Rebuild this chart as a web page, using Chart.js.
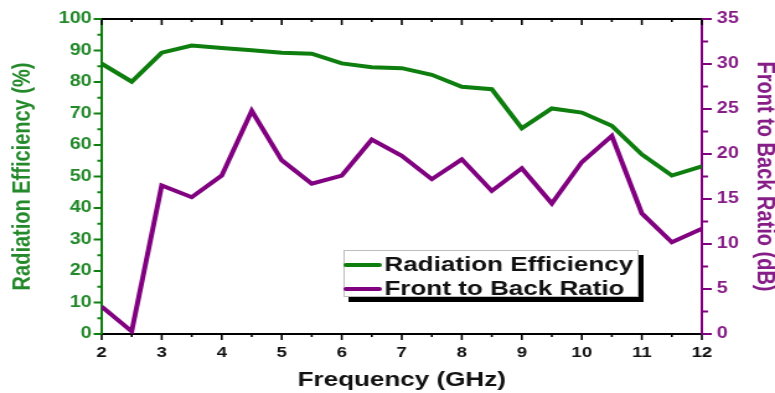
<!DOCTYPE html>
<html>
<head>
<meta charset="utf-8">
<script src="https://cdn.jsdelivr.net/npm/chart.js@4/dist/chart.umd.min.js"></script>
<style>
  html,body{margin:0;padding:0;background:#fff;overflow:hidden}
  /* chart is laid out narrow and widened to the page */
  #wrap{width:625px;height:393px;transform:scaleX(1.24);transform-origin:0 0}
</style>
</head>
<body>
<div id="wrap"><canvas id="effChart" width="625" height="393"></canvas></div>
<script>
/* ── DATA ───────────────────────────────────────────────── */
const freqGHz = [2, 2.5, 3, 3.5, 4, 4.5, 5, 5.5, 6, 6.5, 7, 7.5, 8, 8.5, 9, 9.5, 10, 10.5, 11, 11.5, 12];
const radEff  = [85.8, 80.1, 89.3, 91.6, 90.8, 90.1, 89.3, 89.0, 85.9, 84.7, 84.4, 82.3, 78.5, 77.7, 65.3, 71.6, 70.3, 66.1, 57.0, 50.3, 53.2];
const fbRatio = [3.05, 0.3, 16.5, 15.2, 17.6, 24.8, 19.3, 16.7, 17.6, 21.6, 19.8, 17.2, 19.4, 15.9, 18.4, 14.5, 19.1, 22.0, 13.4, 10.2, 11.7];
const seriesNames = ['Radiation Efficiency', 'Front to Back Ratio'];

const GREEN = '#0e7e0e', GREEN_TXT = '#24892a';
const PURPLE = '#800080', PURPLE_TXT = '#861c86';
const FONT = '"Liberation Sans", Arial, sans-serif';

const pts = vals => freqGHz.map((f, i) => ({ x: f, y: vals[i] }));

/* ── TICK MARKS + TOP FRAME ─────────────────────────────── */
function seg(ctx, x1, y1, x2, y2){ ctx.beginPath(); ctx.moveTo(x1, y1); ctx.lineTo(x2, y2); ctx.stroke(); }

const axisTicks = {
  id: 'axisTicks',
  afterDraw(chart){
    const { ctx, chartArea: a, scales: { x, y, y1 } } = chart;
    ctx.save();
    // top frame line with inward ticks, bottom axis outward ticks
    ctx.strokeStyle = '#000';
    ctx.lineWidth = 2;
    seg(ctx, a.left, a.top, a.right, a.top);
    ctx.lineWidth = 1.6;
    for (let v = x.min; v <= x.max + 1e-6; v += 0.5){
      const px = x.getPixelForValue(v), major = Number.isInteger(v);
      seg(ctx, px, a.bottom, px, a.bottom + (major ? 6 : 3));
      seg(ctx, px, a.top, px, a.top + (major ? 6 : 3));
    }
    // left axis
    ctx.strokeStyle = GREEN; ctx.lineWidth = 2;
    for (let v = y.min; v <= y.max + 1e-6; v += 5){
      const py = y.getPixelForValue(v);
      seg(ctx, a.left, py, a.left - (v % 10 === 0 ? 6.5 : 3.5), py);
    }
    // right axis
    ctx.strokeStyle = PURPLE;
    for (let v = y1.min; v <= y1.max + 1e-6; v += 2.5){
      const py = y1.getPixelForValue(v);
      seg(ctx, a.right, py, a.right + (v % 5 === 0 ? 8 : 5), py);
    }
    ctx.restore();
  }
};

/* ── BOXED LEGEND INSIDE PLOT ───────────────────────────── */
const boxLegend = {
  id: 'boxLegend',
  afterDraw(chart){
    const ctx = chart.ctx;
    const bx = 277, by = 250, bw = 238, bh = 47;
    ctx.save();
    ctx.fillStyle = '#000';
    ctx.fillRect(bx + 4, by + 5, bw, bh);
    ctx.fillStyle = '#fff';
    ctx.fillRect(bx, by, bw, bh);
    ctx.strokeStyle = '#bdbdbd'; ctx.lineWidth = 1;
    ctx.strokeRect(bx + 0.5, by + 0.5, bw - 1, bh - 1);
    ctx.font = `bold 21px ${FONT}`;
    ctx.textBaseline = 'alphabetic';
    chart.data.datasets.forEach((ds, i) => {
      const ly = by + 15 + i * 24;
      ctx.strokeStyle = ds.borderColor; ctx.lineWidth = 4; ctx.lineCap = 'round';
      seg(ctx, bx + 2, ly, bx + 29, ly);
      ctx.fillStyle = '#111';
      ctx.fillText(ds.label, bx + 33, ly + 5.5);
    });
    ctx.restore();
  }
};

/* ── CHART ──────────────────────────────────────────────── */
// tick marks come from the plugin; the library's own ticks only reserve space
const hiddenTicks = len => ({ drawOnChartArea: false, drawTicks: true, tickLength: len, tickColor: 'rgba(0,0,0,0)' });

new Chart(document.getElementById('effChart'), {
  type: 'line',
  data: {
    datasets: [
      { label: seriesNames[0], data: pts(radEff),  yAxisID: 'y',  borderColor: GREEN,  borderWidth: 4, pointRadius: 0, tension: 0, fill: false },
      { label: seriesNames[1], data: pts(fbRatio), yAxisID: 'y1', borderColor: PURPLE, borderWidth: 4, pointRadius: 0, tension: 0, fill: false }
    ]
  },
  options: {
    responsive: false, animation: false, devicePixelRatio: 1,
    layout: { padding: { top: 19, left: 0, right: 0, bottom: 0 } },
    plugins: { legend: { display: false }, tooltip: { enabled: false } },
    scales: {
      x: {
        type: 'linear', min: 2, max: 12,
        afterFit(s){ s.height = 59; },
        ticks: { stepSize: 1, color: '#111', padding: 4, font: { family: FONT, size: 15, weight: 'bold' } },
        grid: hiddenTicks(6),
        border: { color: '#000', width: 2 },
        title: { display: true, text: 'Frequency (GHz)', color: '#111', padding: { top: 0, bottom: 0 }, font: { family: FONT, size: 21, weight: 'bold' } }
      },
      y: {
        position: 'left', min: 0, max: 100,
        afterFit(s){ s.width = 82; },
        ticks: { stepSize: 10, color: GREEN_TXT, padding: 2, font: { family: FONT, size: 16, weight: 'bold' } },
        grid: hiddenTicks(6),
        border: { color: GREEN, width: 2 },
        title: { display: true, text: 'Radiation Efficiency (%)', color: GREEN_TXT, padding: { top: 6, bottom: 0 }, font: { family: FONT, size: 20, weight: 'bold' } }
      },
      y1: {
        position: 'right', min: 0, max: 35,
        afterFit(s){ s.width = 59; },
        ticks: { stepSize: 5, color: PURPLE_TXT, padding: 4, font: { family: FONT, size: 16, weight: 'bold' } },
        grid: hiddenTicks(8),
        border: { color: PURPLE, width: 2 },
        title: { display: true, text: 'Front to Back Ratio (dB)', color: PURPLE_TXT, padding: { top: -4, bottom: 0 }, font: { family: FONT, size: 20, weight: 'bold' } }
      }
    }
  },
  plugins: [axisTicks, boxLegend]
});
</script>
</body>
</html>
